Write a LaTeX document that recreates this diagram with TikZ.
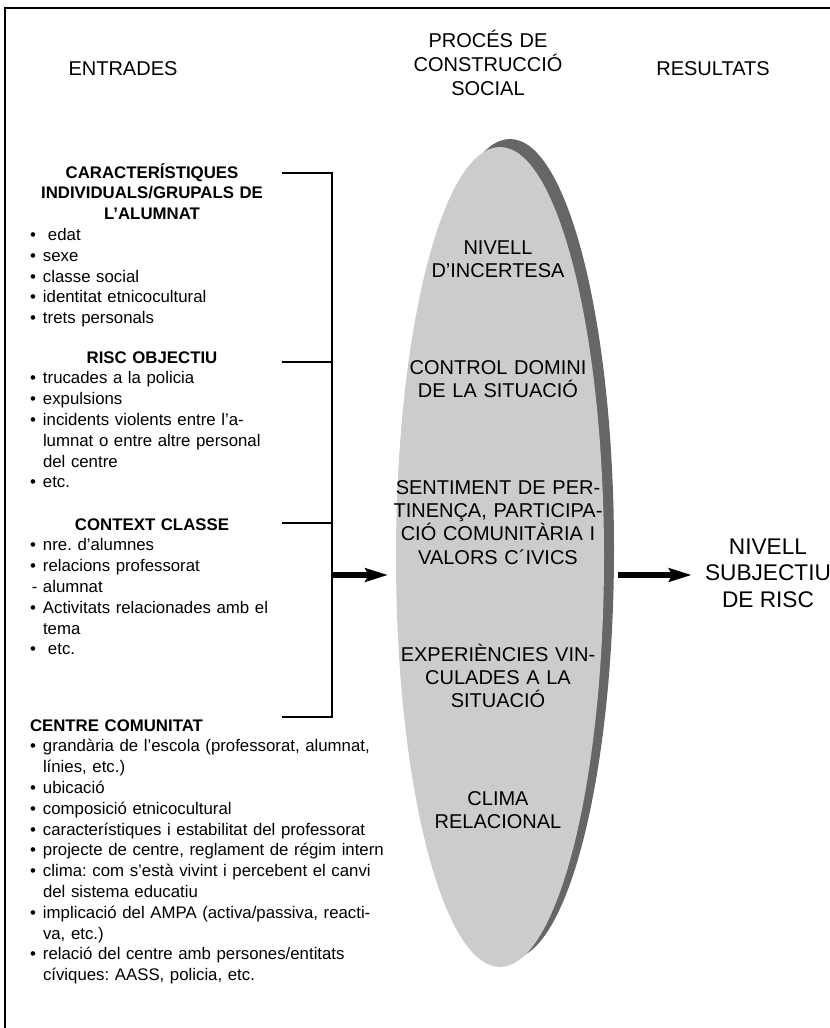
\documentclass[tikz,border=0pt]{standalone}
\usepackage{fontspec}
\setmainfont{Liberation Sans}
\usetikzlibrary{shapes.geometric,arrows.meta}
\definecolor{ellgray}{HTML}{CCCCCC}
\definecolor{shadgray}{HTML}{666666}
\newcommand\hd[1]{\makebox[183pt][c]{\bfseries #1}\par}
\newcommand\itm[1]{\hangindent=9.75pt\hangafter=1\relax\makebox[9.75pt][l]{•}#1\par}
\begin{document}
\begin{tikzpicture}[x=0.75pt,y=-0.75pt,
  every node/.style={inner sep=0pt, outer sep=0pt},
  hdr/.style={font=\fontsize{15pt}{18pt}\selectfont},
  body/.style={font=\fontsize{12.6pt}{15.6pt}\selectfont\frenchspacing, text width=270pt, align=left, anchor=base west},
  elltxt/.style={font=\fontsize{15pt}{17.6pt}\selectfont, text width=165pt, align=center, anchor=base},
  ellshape/.style={ellipse, minimum width=156pt, minimum height=615pt},
  bigarrow/.style={line width=4pt, -{Stealth[length=17pt,width=10pt,inset=2.5pt]}},
  brk/.style={line width=0.8pt}]
\useasboundingbox (0,0) rectangle (829,1028);
\draw[line width=1pt] (5,1040) -- (5,8) -- (840,8);
% headers
\node[hdr, anchor=base] (h1) at (123,75) {ENTRADES};
\node[hdr, anchor=base, text width=150pt, align=center] (h2) at (488,47) {PROCÉS DE\\CONSTRUCCIÓ\\SOCIAL};
\node[hdr, anchor=base] (h3) at (713,75) {RESULTATS};
% ellipse
\node[ellshape, fill=shadgray] (Esh) at (510,549) {};
\node[ellshape, fill=ellgray] (E) at (500,557) {};
\node[elltxt] (p1) at (498,254) {NIVELL\\D’INCERTESA};
\node[elltxt] (p2) at (498,374) {CONTROL DOMINI\\DE LA SITUACIÓ};
\node[elltxt] (p3) at (498,494) {SENTIMENT DE PER-\\TINENÇA, PARTICIPA-\\CIÓ COMUNITÀRIA I\\VALORS C´IVICS};
\node[elltxt] (p4) at (498,661) {EXPERIÈNCIES VIN-\\CULADES A LA\\SITUACIÓ};
\node[elltxt] (p5) at (498,805) {CLIMA\\RELACIONAL};
% result
\node[font=\fontsize{17pt}{19.9pt}\selectfont, align=center] (res) at (768,573) {NIVELL\\SUBJECTIU\\DE RISC};
% left blocks
\node[body] (b1) at (30,178) {\hd{CARACTERÍSTIQUES}\hd{INDIVIDUALS/GRUPALS DE}\hd{L’ALUMNAT}%
\itm{\hspace{3.75pt}edat}\itm{sexe}\itm{classe social}\itm{identitat etnicocultural}\itm{trets personals}};
\node[body] (b2) at (30,363) {\hd{RISC OBJECTIU}%
\itm{trucades a la policia}\itm{expulsions}\itm{incidents violents entre l’a-\newline lumnat o entre altre personal\newline del centre}\itm{etc.}};
\node[body] (b3) at (30,530) {\hd{CONTEXT CLASSE}%
\itm{nre. d’alumnes}\itm{relacions professorat}\makebox[9.75pt][l]{\hspace{1.5pt}-}alumnat\par
\itm{Activitats relacionades amb el\newline tema}\itm{\hspace{3.75pt}etc.}};
\node[body] (b4) at (30,731) {\textbf{CENTRE COMUNITAT}\par
\itm{grandària de l’escola (professorat, alumnat,\newline línies, etc.)}\itm{ubicació}\itm{composició etnicocultural}%
\itm{característiques i estabilitat del professorat}\itm{projecte de centre, reglament de régim intern}%
\itm{clima: com s’està vivint i percebent el canvi\newline del sistema educatiu}%
\itm{implicació del AMPA (activa/passiva, reacti-\newline va, etc.)}%
\itm{relació del centre amb persones/entitats\newline cíviques: AASS, policia, etc.}};
% bracket
\coordinate (t1) at (282,173); \coordinate (c1) at (332,173);
\coordinate (t2) at (282,362); \coordinate (c2) at (332,362);
\coordinate (t3) at (282,523); \coordinate (c3) at (332,523);
\coordinate (t4) at (282,717); \coordinate (c4) at (332,717);
\coordinate (ca) at (332,575);
\draw[brk] (t1) -- (c1) -- (c4) -- (t4);
\draw[brk] (t2) -- (c2);
\draw[brk] (t3) -- (c3);
% arrows
\draw[bigarrow, shorten >=6pt] (ca) -- (E.west |- ca);
\draw[bigarrow, shorten <=10.5pt, shorten >=10pt] (E.east |- ca) -- (res.west |- ca);
\end{tikzpicture}
\end{document}
